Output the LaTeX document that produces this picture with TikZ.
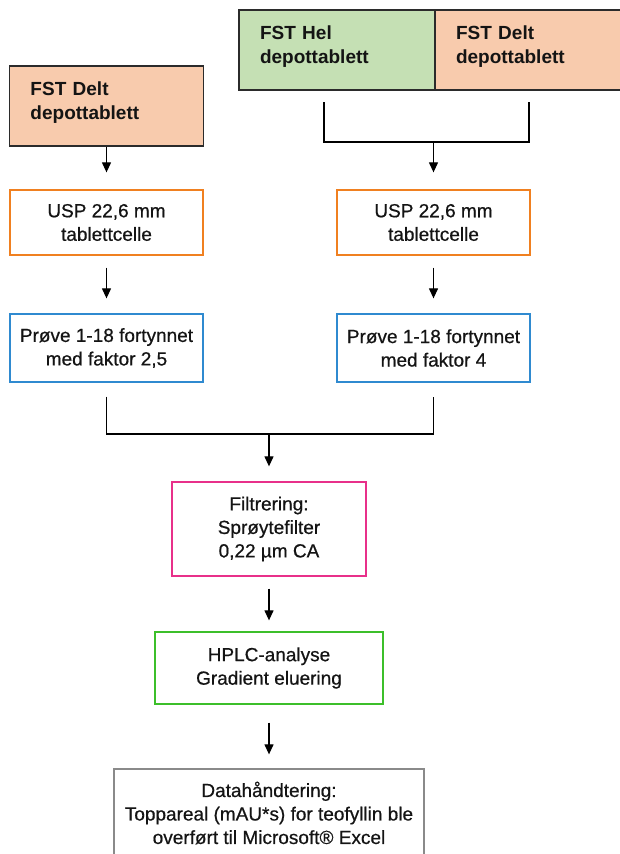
\documentclass[tikz,border=0pt]{standalone}
\usepackage{fontspec}
\setmainfont{Liberation Sans}
\newfontfamily\stepfont{Liberation Sans}[FakeBold=0.6]
\usetikzlibrary{arrows.meta}

\definecolor{peach}{HTML}{F8CBAD}
\definecolor{leaf}{HTML}{C5E0B4}
\definecolor{edgegray}{HTML}{2B2B2B}
\definecolor{cellorange}{HTML}{F08020}
\definecolor{dilblue}{HTML}{2F8AD0}
\definecolor{filtpink}{HTML}{E8308A}
\definecolor{hplcgreen}{HTML}{3CBF2A}
\definecolor{datagray}{HTML}{8A8A8A}

\begin{document}
\begin{tikzpicture}[x=1pt, y=-1pt,
    every node/.style={font=\stepfont\fontsize{19}{23.5}\selectfont, text=black!92},
    sample/.style={shape=rectangle, draw=edgegray, line width=1.3pt, align=left, inner xsep=21pt, minimum height=80pt, font=\bfseries\fontsize{19}{23.5}\selectfont},
    stepbox/.style={shape=rectangle, draw, line width=1.3pt, align=center, inner sep=0pt},
    flow/.style={-{Triangle[length=10pt, width=9pt]}, line width=1.2pt},
    bracket/.style={line width=1.2pt}
  ]
  \useasboundingbox (0,0) rectangle (620,854);
  \clip (0,0) rectangle (620,854);

  \node[sample, fill=peach, text width=152pt] (delt1) at (106.5, 106){FST Delt\\depottablett\rule[-11pt]{0pt}{0pt}};
  \node[sample, fill=leaf, text width=154pt] (hel) at (337, 50){FST Hel\\depottablett\rule[-11pt]{0pt}{0pt}};
  \node[sample, fill=peach, text width=163pt] (delt2) at (537.5, 50){FST Delt\\depottablett\rule[-11pt]{0pt}{0pt}};

  \node[stepbox, draw=cellorange, minimum width=193pt, minimum height=65pt] (usp1) at (106.5, 222.5){USP 22,6 mm\\tablettcelle};
  \node[stepbox, draw=cellorange, minimum width=193pt, minimum height=65pt] (usp2) at (433.5, 222.5){USP 22,6 mm\\tablettcelle};
  \node[stepbox, draw=dilblue, minimum width=193pt, minimum height=68pt] (prove1) at (106.5, 348){Prøve 1-18 fortynnet\\med faktor 2,5};
  \node[stepbox, draw=dilblue, minimum width=193pt, minimum height=68pt] (prove2) at (433.5, 348){Prøve 1-18 fortynnet\\med faktor 4};
  \node[stepbox, draw=filtpink, minimum width=194pt, minimum height=94pt] (filt) at (269, 529){Filtrering:\\Sprøytefilter\\0,22 µm CA};
  \node[stepbox, draw=hplcgreen, minimum width=228pt, minimum height=72pt] (hplc) at (269, 668){HPLC-analyse\\Gradient eluering};
  \node[stepbox, draw=datagray, minimum width=310pt, minimum height=88pt] (data) at (269, 813){Datahåndtering:\\Toppareal (mAU*s) for teofyllin ble\\overført til Microsoft® Excel};

  \coordinate (bl) at (324, 102);
  \coordinate (br) at (529, 102);
  \coordinate (bjl) at (324, 142);
  \coordinate (bjr) at (529, 142);
  \coordinate (bj) at (433.5, 142);
  \coordinate (j1) at (106.5, 434);
  \coordinate (j2) at (433.5, 434);
  \coordinate (jm) at (269, 434);

  \draw[bracket] (bl) -- (bjl) -- (bjr) -- (br);
  \draw[flow, shorten >=17pt] (delt1) to (usp1);
  \draw[flow, shorten >=17pt] (bj) to (usp2);
  \draw[flow, shorten <=12pt, shorten >=15pt] (usp1) to (prove1);
  \draw[flow, shorten <=12pt, shorten >=15pt] (usp2) to (prove2);
  \draw[bracket, shorten <=14pt, shorten >=14pt] (prove1) -- (j1) -- (j2) -- (prove2);
  \draw[flow, shorten >=15pt] (jm) to (filt);
  \draw[flow, shorten <=12pt, shorten >=11pt] (filt) to (hplc);
  \draw[flow, shorten <=18pt, shorten >=14pt] (hplc) to (data);
\end{tikzpicture}
\end{document}
